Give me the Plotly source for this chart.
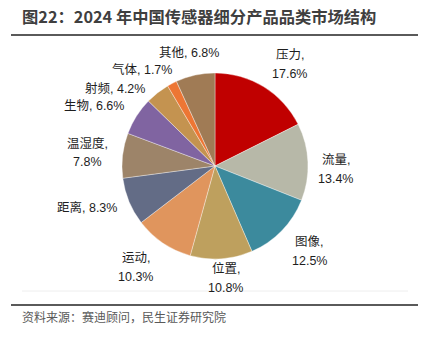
import math
import plotly.graph_objects as go

# 2024 China sensor market structure by product category (%)
categories = ["压力", "流量", "图像", "位置", "运动", "距离", "温湿度", "生物", "射频", "气体", "其他"]
shares = [17.6, 13.4, 12.5, 10.8, 10.3, 8.3, 7.8, 6.6, 4.2, 1.7, 6.8]
colors = ["#C00000", "#B7B8A8", "#3C8A9D", "#BEA05E", "#E0955D", "#636C86",
          "#9D8469", "#8064A1", "#C49350", "#ED7634", "#A07B55"]

# label layout: split onto two lines, angular nudge (deg) and distance from centre (px)
two_line = [True, True, True, True, True, False, True, False, False, False, False]
label_nudge = [4.6, 4.4, -2.0, -1.6, 3.8, 4.5, -0.5, -6.2, -14.0, -9.5, -0.5]
label_dist = [126, 121, 127, 113, 129, 135, 128, 135, 127, 121, 116]

W, H = 425, 340
cx, cy, r = 215, 166, 93
line_gap = 19
label_font = dict(family="Liberation Sans, Noto Sans CJK SC", size=12.5, color="#1E1E1E")


def px_to_paper(x, y):
    return x / W, 1 - y / H


fig = go.Figure(go.Pie(
    labels=categories,
    values=shares,
    sort=False,
    direction="clockwise",
    rotation=0,
    marker=dict(colors=colors, line=dict(color="rgba(255,255,255,0.6)", width=0.6)),
    textinfo="none",
    hoverinfo="label+value",
    showlegend=False,
    domain=dict(x=[(cx - r) / W, (cx + r) / W], y=[1 - (cy + r) / H, 1 - (cy - r) / H]),
))

annotations = []
cum = 0.0
for name, val, split, nudge, dist in zip(categories, shares, two_line, label_nudge, label_dist):
    mid = (cum + val / 2) / sum(shares) * 360 + nudge
    cum += val
    lx = cx + dist * math.sin(math.radians(mid))
    ly = cy - dist * math.cos(math.radians(mid))
    if split:
        rows = [(f"{name},", ly - line_gap / 2), (f"{val:.1f}%", ly + line_gap / 2)]
    else:
        rows = [(f"{name}, {val:.1f}%", ly)]
    for txt, yy in rows:
        px, py = px_to_paper(lx, yy)
        annotations.append(dict(text=txt, xref="paper", yref="paper", x=px, y=py,
                                xanchor="center", yanchor="middle", showarrow=False,
                                font=label_font))

shapes = [
    dict(type="line", xref="paper", yref="paper", x0=11 / W, x1=418 / W, y0=1 - 35 / H, y1=1 - 35 / H,
         line=dict(color="#5A5A5A", width=2)),
    dict(type="line", xref="paper", yref="paper", x0=22 / W, x1=408 / W, y0=1 - 291 / H, y1=1 - 291 / H,
         line=dict(color="#EEEEEE", width=1)),
    dict(type="line", xref="paper", yref="paper", x0=11 / W, x1=418 / W, y0=1 - 305 / H, y1=1 - 305 / H,
         line=dict(color="#5A5A5A", width=2)),
]

annotations += [
    dict(text="<b>图22：2024 年中国传感器细分产品品类市场结构</b>", xref="paper", yref="paper",
         x=20 / W, y=1 - 16 / H, xanchor="left", yanchor="middle", showarrow=False,
         font=dict(family="Noto Sans CJK SC", size=16.3, color="#3F3F3F")),
    dict(text="资料来源：赛迪顾问，民生证券研究院", xref="paper", yref="paper",
         x=20 / W, y=1 - 316 / H, xanchor="left", yanchor="middle", showarrow=False,
         font=dict(family="Noto Sans CJK SC", size=12, color="#595959")),
]

fig.update_layout(
    width=W, height=H,
    margin=dict(l=0, r=0, t=0, b=0),
    paper_bgcolor="white",
    shapes=shapes,
    annotations=annotations,
)

fig.write_html("out.html")
